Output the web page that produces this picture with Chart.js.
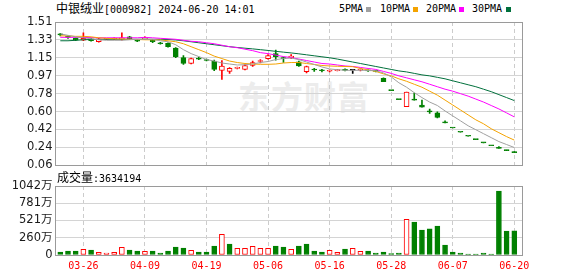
<!DOCTYPE html>
<html>
<head>
<meta charset="utf-8">
<title>中银绒业 K线</title>
<style>
  body { margin: 0; background: #fff; }
  #wrap { position: relative; width: 578px; height: 276px; overflow: hidden; }
  canvas { position: absolute; left: 0; }
  #priceChart { top: 0; }
  #volChart { top: 170px; }
  .txt { position: absolute; white-space: pre; color: #000; line-height: 16px; }
  .cn { font-family: 'Noto Sans CJK SC', sans-serif; font-size: 12px; }
  .mono { font-family: 'DejaVu Sans Mono', monospace; font-size: 10px; }
  .box { position: absolute; width: 5px; height: 5px; top: 7px; }
  #watermark {
    position: absolute; left: 238px; top: 72px;
    font-family: 'Noto Sans CJK SC', sans-serif; font-weight: bold; font-size: 32px;
    color: #ececec; letter-spacing: 1px;
  }
</style>
</head>
<body>
<div id="wrap">
  <div id="watermark">东方财富</div>
  <div class="txt" style="left:56px; top:0px"><span class="cn">中银绒业</span><span class="mono">[000982] 2024-06-20 14:01</span></div>

  <div class="txt mono" style="left:339px; top:1px">5PMA</div>
  <div class="box" style="left:366px; background:#a0a0a0"></div>
  <div class="txt mono" style="left:380px; top:1px">10PMA</div>
  <div class="box" style="left:413px; background:#f4a300"></div>
  <div class="txt mono" style="left:426px; top:1px">20PMA</div>
  <div class="box" style="left:459px; background:#ff00ff"></div>
  <div class="txt mono" style="left:472px; top:1px">30PMA</div>
  <div class="box" style="left:506px; background:#00703c"></div>

  <canvas id="priceChart" width="578" height="180"></canvas>
  <canvas id="volChart" width="578" height="106"></canvas>
  <div class="txt" id="volText" style="left:57px; top:169px"></div>
</div>

<script src="https://cdn.jsdelivr.net/npm/chart.js"></script>
<script>
  const dates = [
    "03-21", "03-22", "03-25", "03-26", "03-27", "03-28", "03-29", "04-01", "04-02", "04-03",
    "04-08", "04-09", "04-10", "04-11", "04-12", "04-15", "04-16", "04-17", "04-18", "04-19",
    "04-22", "04-23", "04-24", "04-25", "04-26", "04-29", "04-30", "05-06", "05-07", "05-08",
    "05-09", "05-10", "05-13", "05-14", "05-15", "05-16", "05-17", "05-20", "05-21", "05-22",
    "05-23", "05-24", "05-27", "05-28", "05-29", "05-30", "05-31", "06-03", "06-04", "06-05",
    "06-06", "06-07", "06-11", "06-12", "06-13", "06-14", "06-17", "06-18", "06-19", "06-20"
  ];

  const open = [
    1.39, 1.36, 1.345, 1.325, 1.34, 1.31, 1.335, 1.338, 1.335, 1.36,
    1.33, 1.335, 1.325, 1.30, 1.295, 1.245, 1.15, 1.09, 1.145, 1.13,
    1.115, 1.02, 1.01, 1.04, 1.03, 1.07, 1.11, 1.14, 1.19, 1.15,
    1.15, 1.108, 1.007, 1.03, 1.022, 1.012, 1.018, 1.03, 1.02, 1.022,
    1.02, 1.012, 0.94, 0.815, 0.725, 0.653, 0.72, 0.67, 0.61, 0.59,
    0.49, 0.437, 0.394, 0.354, 0.319, 0.287, 0.258, 0.232, 0.209, 0.188
  ];
  const high = [
    1.395, 1.37, 1.35, 1.40, 1.345, 1.345, 1.345, 1.35, 1.40, 1.365,
    1.335, 1.36, 1.33, 1.305, 1.30, 1.25, 1.17, 1.145, 1.155, 1.135,
    1.125, 1.12, 1.05, 1.055, 1.08, 1.115, 1.13, 1.18, 1.225, 1.155,
    1.18, 1.115, 1.065, 1.04, 1.03, 1.025, 1.03, 1.035, 1.022, 1.035,
    1.025, 1.02, 0.945, 0.815, 0.725, 0.80, 0.79, 0.72, 0.63, 0.60,
    0.51, 0.437, 0.394, 0.354, 0.319, 0.287, 0.258, 0.25, 0.215, 0.20
  ];
  const low = [
    1.37, 1.345, 1.32, 1.32, 1.315, 1.305, 1.33, 1.33, 1.325, 1.335,
    1.31, 1.33, 1.30, 1.285, 1.255, 1.15, 1.08, 1.085, 1.13, 1.115,
    1.017, 0.93, 0.99, 1.035, 1.025, 1.06, 1.095, 1.135, 1.125, 1.10,
    1.14, 1.06, 0.995, 1.01, 1.005, 1.005, 1.015, 1.015, 0.99, 1.015,
    1.01, 1.005, 0.905, 0.815, 0.725, 0.653, 0.72, 0.648, 0.585, 0.54,
    0.49, 0.437, 0.394, 0.354, 0.319, 0.287, 0.258, 0.232, 0.209, 0.188
  ];
  const close = [
    1.38, 1.355, 1.325, 1.345, 1.32, 1.34, 1.342, 1.345, 1.35, 1.34,
    1.315, 1.35, 1.31, 1.29, 1.26, 1.16, 1.09, 1.14, 1.135, 1.12,
    1.03, 1.065, 1.04, 1.047, 1.07, 1.10, 1.12, 1.17, 1.16, 1.14,
    1.165, 1.065, 1.058, 1.024, 1.017, 1.02, 1.025, 1.02, 1.02, 1.03,
    1.015, 1.01, 0.906, 0.815, 0.725, 0.80, 0.72, 0.648, 0.60, 0.545,
    0.49, 0.437, 0.394, 0.354, 0.319, 0.287, 0.258, 0.232, 0.209, 0.188
  ];

  // 成交量, 单位: 万
  const volume = [
    45, 60, 60, 86, 75, 40, 30, 40, 116, 75,
    60, 55, 60, 30, 60, 121, 106, 70, 45, 45,
    136, 312, 166, 100, 100, 131, 100, 100, 136, 121,
    86, 136, 166, 60, 45, 70, 40, 91, 100, 55,
    60, 30, 45, 20, 30, 539, 498, 377, 397, 438,
    151, 45, 30, 15, 15, 30, 15, 966, 362, 363.4194
  ];

  const ma5 = [
    1.39, 1.375, 1.36, 1.35, 1.34, 1.33, 1.325, 1.325, 1.325, 1.33,
    1.335, 1.335, 1.335, 1.32, 1.31, 1.28, 1.23, 1.19, 1.16, 1.13,
    1.115, 1.095, 1.085, 1.075, 1.078, 1.085, 1.10, 1.11, 1.13, 1.14,
    1.145, 1.13, 1.105, 1.08, 1.055, 1.035, 1.027, 1.022, 1.02, 1.022,
    1.02, 1.017, 0.995, 0.955, 0.895, 0.85, 0.795, 0.745, 0.70, 0.665,
    0.61, 0.56, 0.51, 0.46, 0.42, 0.38, 0.34, 0.30, 0.27, 0.24
  ];
  const ma10 = [
    1.37, 1.37, 1.365, 1.365, 1.36, 1.35, 1.345, 1.34, 1.338, 1.335,
    1.333, 1.33, 1.33, 1.328, 1.32, 1.31, 1.29, 1.26, 1.23, 1.20,
    1.165, 1.14, 1.115, 1.10, 1.09, 1.085, 1.082, 1.082, 1.085, 1.095,
    1.10, 1.10, 1.09, 1.08, 1.07, 1.065, 1.062, 1.06, 1.058, 1.04,
    1.025, 1.01, 0.985, 0.965, 0.935, 0.91, 0.88, 0.85, 0.81, 0.77,
    0.72, 0.67, 0.62, 0.57, 0.52, 0.48, 0.43, 0.39, 0.35, 0.315
  ];
  const ma20 = [
    1.355, 1.355, 1.355, 1.353, 1.352, 1.35, 1.35, 1.35, 1.35, 1.35,
    1.35, 1.355, 1.35, 1.345, 1.34, 1.335, 1.325, 1.315, 1.31, 1.30,
    1.29, 1.275, 1.26, 1.25, 1.235, 1.22, 1.20, 1.19, 1.175, 1.16,
    1.15, 1.135, 1.12, 1.105, 1.09, 1.085, 1.075, 1.065, 1.06, 1.05,
    1.04, 1.03, 1.01, 0.99, 0.965, 0.945, 0.925, 0.905, 0.88, 0.855,
    0.83, 0.81, 0.785, 0.76, 0.73, 0.70, 0.665, 0.63, 0.59, 0.55
  ];
  const ma30 = [
    1.32, 1.32, 1.325, 1.33, 1.333, 1.335, 1.335, 1.335, 1.335, 1.335,
    1.335, 1.335, 1.335, 1.335, 1.333, 1.328, 1.32, 1.31, 1.30, 1.29,
    1.28, 1.27, 1.26, 1.252, 1.245, 1.238, 1.23, 1.222, 1.213, 1.205,
    1.197, 1.188, 1.178, 1.168, 1.158, 1.148, 1.135, 1.12, 1.105, 1.09,
    1.075, 1.06, 1.045, 1.03, 1.015, 1.005, 0.99, 0.975, 0.965, 0.95,
    0.935, 0.915, 0.895, 0.875, 0.855, 0.83, 0.805, 0.775, 0.745, 0.715
  ];

  const priceTicks = ["0.06", "0.24", "0.42", "0.60", "0.78", "0.97", "1.15", "1.33", "1.51"];
  const volTicks = ["0", "260万", "521万", "781万", "1042万"];
  const volMax = 1042;
  const labelIdx = [3, 11, 19, 27, 35, 43, 51, 59];

  const UP = '#ff0000', DOWN = '#008000', FLAT = '#000000';
  const priceMin = parseFloat(priceTicks[0]);
  const priceMax = parseFloat(priceTicks[priceTicks.length - 1]);

  function candleColor(i) {
    if (close[i] > open[i]) return UP;
    if (close[i] < open[i]) return DOWN;
    const prev = i > 0 ? close[i - 1] : close[i];
    return close[i] > prev ? UP : (close[i] < prev ? DOWN : FLAT);
  }
  function volUp(i) {
    return i === 0 ? close[i] >= open[i] : close[i] >= close[i - 1];
  }

  document.getElementById('volText').innerHTML =
    '<span class="cn">成交量</span><span class="mono">:' + Math.round(volume[volume.length - 1] * 10000) + '</span>';

  const axisFont = { family: "'DejaVu Sans', 'Noto Sans CJK SC', sans-serif", size: 11.5 };

  // frame around the plot area
  const framePlugin = {
    id: 'frame',
    beforeDatasetsDraw(chart) {
      const { ctx, chartArea: a } = chart;
      ctx.save();
      ctx.strokeStyle = '#9a9a9a';
      ctx.lineWidth = 1;
      const l = Math.floor(a.left) + 0.5, t = Math.floor(a.top) + 0.5;
      const r = Math.floor(a.right) + 0.5, b = Math.floor(a.bottom) + 0.5;
      ctx.strokeRect(l, t, r - l, b - t);
      ctx.restore();
    }
  };

  function xAxis(showLabels) {
    return {
      type: 'linear',
      min: -0.624,
      max: 60,
      offset: false,
      afterBuildTicks: s => { s.ticks = labelIdx.map(v => ({ value: v })); },
      afterFit: s => { s.height = showLabels ? 21 : 0; },
      grid: { color: '#cccccc', drawTicks: false, offset: false },
      border: { display: false, dash: [4, 3] },
      ticks: {
        display: showLabels, autoSkip: false, maxRotation: 0, padding: 5, color: '#ff0000',
        font: { family: "'DejaVu Sans Mono', monospace", size: 10 },
        callback: v => dates[v]
      }
    };
  }

  const idx = dates.map((_, i) => i);
  const colors = idx.map(candleColor);

  function maSet(values, color) {
    return {
      type: 'line',
      data: values.map((v, i) => ({ x: i, y: v })),
      borderColor: color,
      borderWidth: 1,
      pointRadius: 0,
      tension: 0,
      order: 0
    };
  }

  new Chart(document.getElementById('priceChart'), {
    type: 'bar',
    data: {
      datasets: [
        {
          // wicks
          data: idx.map(i => ({ x: i, y: [low[i], high[i]] })),
          backgroundColor: colors,
          borderWidth: 0,
          barThickness: 1,
          grouped: false,
          order: 2
        },
        {
          // bodies
          data: idx.map(i => ({ x: i, y: [open[i], close[i]] })),
          backgroundColor: idx.map(i => close[i] > open[i] ? '#ffffff' : colors[i]),
          borderColor: colors,
          borderWidth: 1,
          borderSkipped: false,
          minBarLength: 1,
          barThickness: 5,
          grouped: false,
          order: 1
        },
        maSet(ma5, '#a0a0a0'),
        maSet(ma10, '#f4a300'),
        maSet(ma20, '#ff00ff'),
        maSet(ma30, '#00703c')
      ]
    },
    options: {
      responsive: false,
      animation: false,
      events: [],
      layout: { padding: { left: 0, right: 56, top: 22, bottom: 14.7 } },
      plugins: { legend: { display: false }, tooltip: { enabled: false } },
      scales: {
        x: xAxis(false),
        y: {
          min: priceMin,
          max: priceMax,
          afterBuildTicks: s => {
            s.ticks = priceTicks.map((t, i) => ({ value: priceMin + i * (priceMax - priceMin) / (priceTicks.length - 1) }));
          },
          afterFit: s => { s.width = 55.5; },
          grid: { color: '#d4d4d4', drawTicks: false },
          border: { display: false },
          ticks: { padding: 3, color: '#1a1a1a', font: axisFont, callback: (v, i) => priceTicks[i] }
        }
      }
    },
    plugins: [framePlugin]
  });

  new Chart(document.getElementById('volChart'), {
    type: 'bar',
    data: {
      datasets: [{
        data: idx.map(i => ({ x: i, y: volume[i] })),
        backgroundColor: idx.map(i => volUp(i) ? '#ffffff' : DOWN),
        borderColor: idx.map(i => volUp(i) ? UP : DOWN),
        borderWidth: 1,
        borderSkipped: false,
        barThickness: 5
      }]
    },
    options: {
      responsive: false,
      animation: false,
      events: [],
      layout: { padding: { left: 0, right: 56, top: 16, bottom: 0 } },
      plugins: { legend: { display: false }, tooltip: { enabled: false } },
      scales: {
        x: xAxis(true),
        y: {
          min: 0,
          max: volMax,
          afterBuildTicks: s => {
            s.ticks = volTicks.map((t, i) => ({ value: i * volMax / (volTicks.length - 1) }));
          },
          afterFit: s => { s.width = 55.5; },
          grid: { color: '#d4d4d4', drawTicks: false },
          border: { display: false },
          ticks: { padding: 3, color: '#1a1a1a', font: axisFont, callback: (v, i) => volTicks[i] }
        }
      }
    },
    plugins: [framePlugin]
  });
</script>
</body>
</html>
